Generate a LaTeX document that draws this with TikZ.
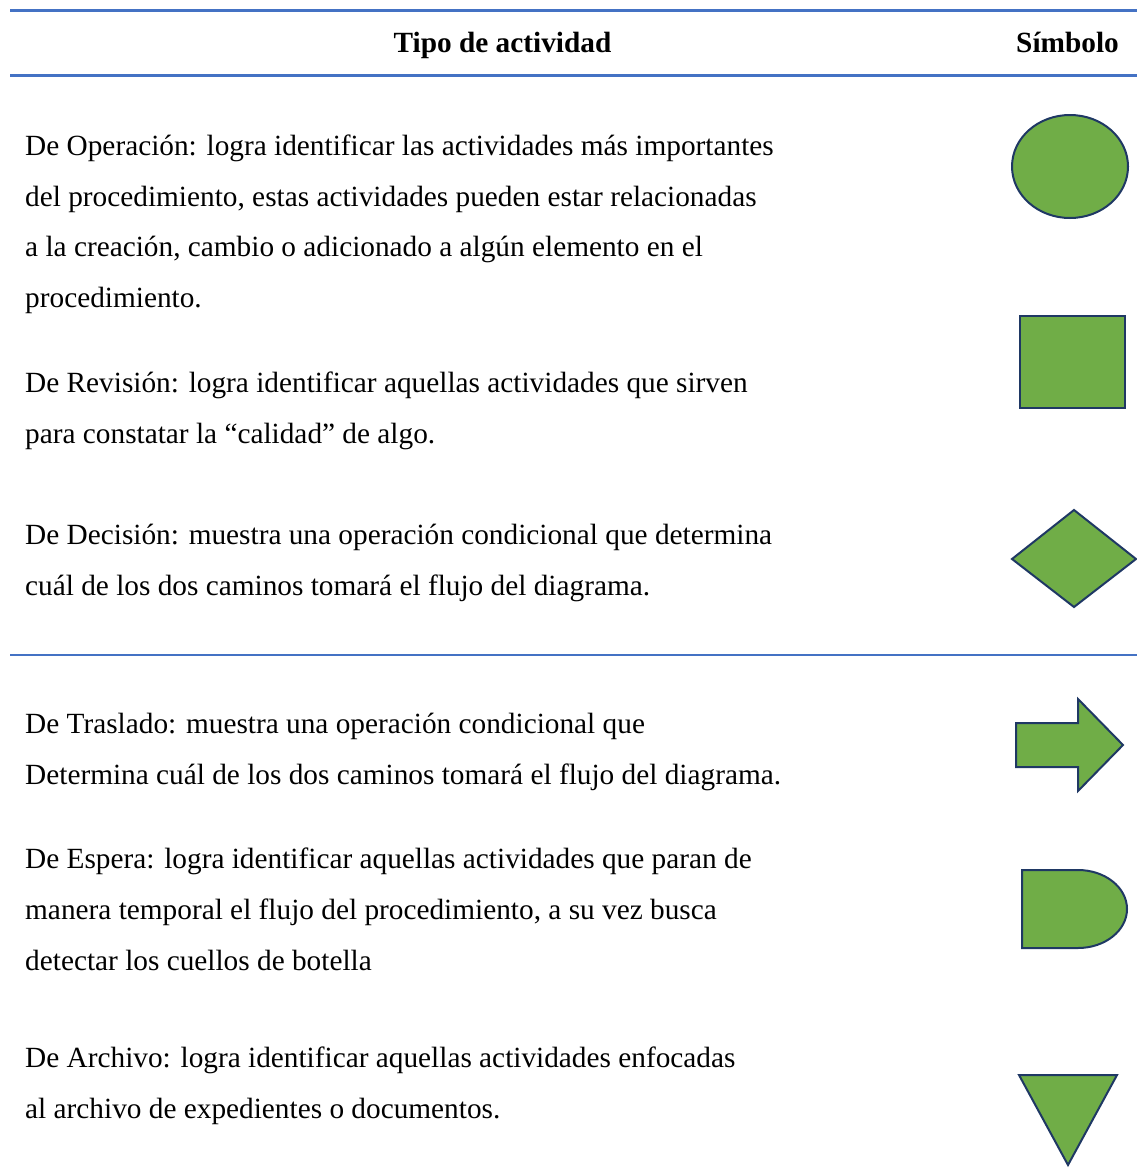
\documentclass[tikz,border=0pt]{standalone}
\usepackage{fontspec}
\setmainfont{Liberation Serif}
\definecolor{rule}{HTML}{4472C4}
\definecolor{symfill}{HTML}{70AD47}
\definecolor{symline}{HTML}{1F3864}
\begin{document}
\begin{tikzpicture}[x=1pt,y=-1pt,
  rulebar/.style={draw=rule,line width=2.7pt},
  sym/.style={draw=symline,fill=symfill,line width=2pt,line join=miter},
  txt/.style={anchor=base west,inner sep=0pt,font=\fontsize{29.3}{35}\selectfont},
  head/.style={anchor=base,inner sep=0pt,font=\fontsize{29.3}{35}\selectfont\bfseries}]
\useasboundingbox (0,0) rectangle (1137,1175);

% table rules
\draw[rulebar] (10,10.5) -- (1137,10.5);
\draw[rulebar] (10,75.3) -- (1137,75.3);
\draw[rulebar] (10,655) -- (1137,655);

% header
\node[head] (h1) at (502.5,52) {Tipo de actividad};
\node[head] (h2) at (1067.5,52) {Símbolo};

% operation
\node[txt] (op1) at (25,155) {De Operación: logra identificar las actividades más importantes};
\node[txt] (op2) at (25,206) {del procedimiento, estas actividades pueden estar relacionadas};
\node[txt] (op3) at (25,256) {a la creación, cambio o adicionado a algún elemento en el};
\node[txt] (op4) at (25,307) {procedimiento.};
\draw[sym] (1070,166.5) ellipse[x radius=58, y radius=51.5];

% inspection
\node[txt] (rv1) at (25,392) {De Revisión: logra identificar aquellas actividades que sirven};
\node[txt] (rv2) at (25,443) {para constatar la “calidad” de algo.};
\draw[sym] (1020,316) rectangle (1125,408);

% decision
\node[txt] (dc1) at (25,544) {De Decisión: muestra una operación condicional que determina};
\node[txt] (dc2) at (25,595) {cuál de los dos caminos tomará el flujo del diagrama.};
\draw[sym] (1012,559) -- (1074,510) -- (1136,559) -- (1074,607) -- cycle;

% transport
\node[txt] (tr1) at (25,733) {De Traslado: muestra una operación condicional que};
\node[txt] (tr2) at (25,784) {Determina cuál de los dos caminos tomará el flujo del diagrama.};
\draw[sym] (1016,723) -- (1078,723) -- (1078,699) -- (1123,745) -- (1078,791)
  -- (1078,767) -- (1016,767) -- cycle;

% delay
\node[txt] (es1) at (25,868) {De Espera: logra identificar aquellas actividades que paran de};
\node[txt] (es2) at (25,919) {manera temporal el flujo del procedimiento, a su vez busca};
\node[txt] (es3) at (25,970) {detectar los cuellos de botella};
\draw[sym] (1022,870) -- (1078,870) arc[start angle=-90, end angle=90, x radius=49, y radius=39]
  -- (1022,948) -- cycle;

% storage
\node[txt] (ar1) at (25,1067) {De Archivo: logra identificar aquellas actividades enfocadas};
\node[txt] (ar2) at (25,1118) {al archivo de expedientes o documentos.};
\draw[sym] (1019,1075) -- (1117,1075) -- (1068,1165) -- cycle;
\end{tikzpicture}
\end{document}
